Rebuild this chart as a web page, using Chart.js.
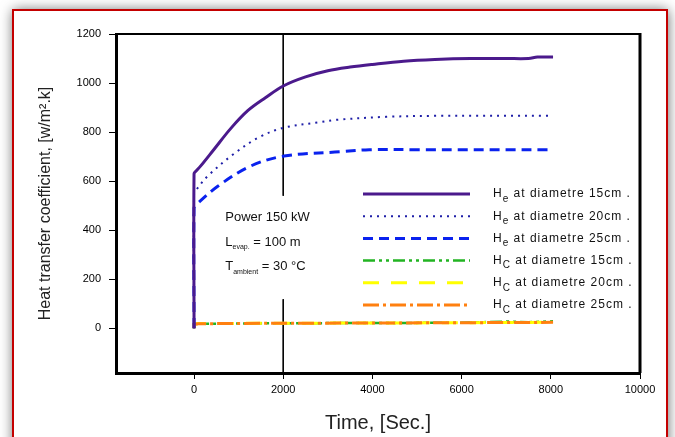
<!DOCTYPE html>
<html><head><meta charset="utf-8">
<script src="https://cdn.jsdelivr.net/npm/chart.js@4"></script>
<style>html,body{margin:0;padding:0;background:#fff;overflow:hidden}canvas{display:block}</style>
</head><body>
<div style="width:675px;height:437px;position:relative"><canvas id="c" width="675" height="437"></canvas></div>
<script>
// ---- data ----
const timeHe15 = [0, 0, 40, 150, 450, 830, 1210, 1600, 2000, 2500, 3000, 3500, 4000, 4700, 5400, 6200, 7000, 7500, 7700, 8050];
const he15     = [0, 630, 640, 662, 730, 816, 888, 940, 988, 1025, 1050, 1065, 1076, 1089, 1096, 1100, 1100, 1100, 1106, 1106];
const timeHe20 = [0, 0, 40, 315, 900, 1450, 2000, 2800, 3200, 4300, 5400, 8000];
const he20     = [0, 550, 562, 622, 712, 778, 817, 840, 850, 862, 866, 866];
const timeHe25 = [0, 0, 40, 540, 1280, 2020, 3300, 3930, 5000, 8050];
const he25     = [0, 490, 502, 580, 662, 702, 720, 728, 728, 728];
const timeHc   = [0, 0, 100, 2000, 4000, 6000, 7000, 7500, 8050];
const hc15     = [0, 16, 18, 20, 21, 22, 27, 24, 28];
const hc20     = [0, 17, 19, 20, 21, 22, 23, 23, 24];
const hc25     = [0, 16, 18, 20, 21, 22, 23, 23, 24];
const refX     = [2000, 2000];
const refUpper = [1200, 540];
const refLower = [118, -183];
const xTicks = [0, 2000, 4000, 6000, 8000, 10000];
const yTicks = [0, 200, 400, 600, 800, 1000, 1200];
const seriesNames = [
  ['e', ' at diametre 15cm .'],
  ['e', ' at diametre 20cm .'],
  ['e', ' at diametre 25cm .'],
  ['C', ' at diametre 15cm .'],
  ['C', ' at diametre 20cm .'],
  ['C', ' at diametre 25cm .']
];
const noteLines = [
  {x: 700, y: 450, main: 'Power 150 kW', sub: '', rest: ''},
  {x: 700, y: 350, main: 'L', sub: 'evap.', rest: ' = 100 m'},
  {x: 700, y: 250, main: 'T', sub: 'ambient', rest: ' = 30 °C'}
];

const pts = (xs, ys) => xs.map((x, i) => ({x, y: ys[i]}));
const FONT = "'Liberation Sans', Arial, sans-serif";

const series = [
  {data: pts(timeHe15, he15), borderColor: '#4b1a8c', borderWidth: 3, borderDash: [], order: 0, tension: 0.35},
  {data: pts(timeHe20, he20), borderColor: '#1f1fa8', borderWidth: 2, borderDash: [2, 5], order: 1, tension: 0.35},
  {data: pts(timeHe25, he25), borderColor: '#0a22ee', borderWidth: 3, borderDash: [10, 6], order: 2, tension: 0.35},
  {data: pts(timeHc, hc15), borderColor: '#22b422', borderWidth: 2.5, borderDash: [12, 4, 3, 4, 3, 4], order: 5, tension: 0},
  {data: pts(timeHc, hc20), borderColor: '#ffff00', borderWidth: 3, borderDash: [16, 12], order: 4, tension: 0},
  {data: pts(timeHc, hc25), borderColor: '#ff8010', borderWidth: 3, borderDash: [16, 4, 3, 4], order: 3, tension: 0}
];
const datasets = series.map(s => Object.assign({pointRadius: 0, fill: false}, s));
datasets.push({data: pts(refX, refUpper), borderColor: '#000', borderWidth: 1, pointRadius: 0, order: 6});
datasets.push({data: pts(refX, refLower), borderColor: '#000', borderWidth: 1, pointRadius: 0, order: 6});

const frame = {
  id: 'frame',
  beforeDraw(chart) {
    const ctx = chart.ctx;
    ctx.save();
    ctx.fillStyle = '#fff';
    ctx.fillRect(0, 0, chart.width, chart.height);
    ctx.shadowColor = 'rgba(0,0,0,0.6)';
    ctx.shadowBlur = 12;
    ctx.fillRect(13, 10, 655, 470);
    ctx.restore();
    ctx.save();
    ctx.strokeStyle = '#c40000';
    ctx.lineWidth = 2;
    ctx.strokeRect(13, 10, 654, 470);
    ctx.restore();
  },
  afterDatasetsDraw(chart) {
    const ctx = chart.ctx, a = chart.chartArea;
    const xs = chart.scales.x, ys = chart.scales.y;
    ctx.save();
    ctx.strokeStyle = '#000';
    ctx.lineWidth = 2;
    ctx.beginPath(); ctx.moveTo(a.left, a.top); ctx.lineTo(a.right, a.top); ctx.stroke();
    ctx.lineWidth = 3;
    ctx.beginPath(); ctx.moveTo(a.right, a.top - 1); ctx.lineTo(a.right, a.bottom); ctx.stroke();
    ctx.fillStyle = '#111';
    ctx.textBaseline = 'middle';
    noteLines.forEach(n => {
      let px = xs.getPixelForValue(n.x), py = ys.getPixelForValue(n.y);
      ctx.font = '13px ' + FONT;
      ctx.fillText(n.main, px, py);
      px += ctx.measureText(n.main).width;
      if (n.sub) {
        ctx.font = '7px ' + FONT;
        ctx.fillText(n.sub, px, py + 5);
        px += ctx.measureText(n.sub).width;
      }
      ctx.font = '13px ' + FONT;
      ctx.fillText(n.rest, px, py);
    });
    const lx0 = a.left + 247, lx1 = a.left + 354, tx = a.left + 377;
    series.forEach((s, i) => {
      const y = a.top + 160 + i * 22.2;
      ctx.strokeStyle = s.borderColor;
      ctx.lineWidth = s.borderWidth;
      ctx.setLineDash(s.borderDash);
      ctx.beginPath(); ctx.moveTo(lx0, y); ctx.lineTo(lx1, y); ctx.stroke();
      ctx.setLineDash([]);
      ctx.fillStyle = '#111';
      ctx.letterSpacing = '1px';
      ctx.font = '12px ' + FONT;
      let px = tx;
      ctx.fillText('H', px, y);
      px += ctx.measureText('H').width;
      ctx.font = '10px ' + FONT;
      ctx.fillText(seriesNames[i][0], px, y + 5);
      px += ctx.measureText(seriesNames[i][0]).width;
      ctx.font = '12px ' + FONT;
      ctx.fillText(seriesNames[i][1], px, y);
      ctx.letterSpacing = '0px';
    });
    ctx.restore();
  }
};

new Chart(document.getElementById('c'), {
  type: 'line',
  data: {datasets},
  plugins: [frame],
  options: {
    responsive: false,
    animation: false,
    devicePixelRatio: 1,
    layout: {padding: {top: 34, right: 35, left: 0, bottom: 0}},
    plugins: {legend: {display: false}, tooltip: {enabled: false}},
    scales: {
      x: {
        type: 'linear', min: -1750, max: 10000,
        afterFit(s) { s.height = 64; },
        afterBuildTicks(s) { s.ticks = xTicks.map(v => ({value: v})); },
        ticks: {color: '#000', font: {family: FONT, size: 11}, padding: 4, maxRotation: 0,
                callback: v => String(v)},
        grid: {drawOnChartArea: false, drawTicks: true, tickLength: 6, color: '#000', tickWidth: 1},
        border: {display: true, color: '#000', width: 3},
        title: {display: true, text: 'Time, [Sec.]', color: '#222',
                font: {family: FONT, size: 20}, padding: {top: 0, bottom: 2}}
      },
      y: {
        type: 'linear', min: -183, max: 1200,
        afterFit(s) { s.width = 116; },
        afterBuildTicks(s) { s.ticks = yTicks.map(v => ({value: v})); },
        ticks: {color: '#000', font: {family: FONT, size: 11}, padding: 8,
                callback: v => String(v)},
        grid: {drawOnChartArea: false, drawTicks: true, tickLength: 7, color: '#000', tickWidth: 1},
        border: {display: true, color: '#000', width: 3},
        title: {display: true, text: 'Heat transfer coefficient, [w/m².k]', color: '#222',
                font: {family: FONT, size: 16}, padding: {top: 36, bottom: 0}}
      }
    }
  }
});
</script>
</body></html>
